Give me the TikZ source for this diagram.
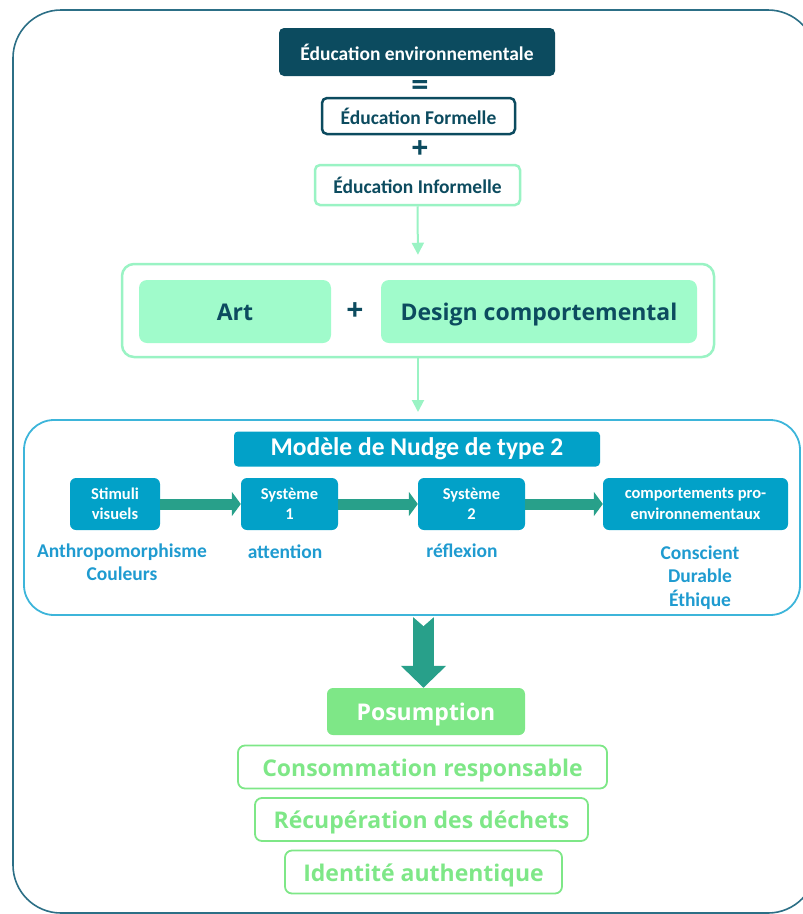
\documentclass[tikz,border=0pt]{standalone}
\usepackage{fontspec}
\setmainfont{Carlito}
\newfontfamily\opensans{Open Sans}
\usetikzlibrary{arrows.meta}
\definecolor{edudark}{HTML}{0C4B5F}
\definecolor{mint}{HTML}{A0FBCB}
\definecolor{mintline}{HTML}{9AF3C4}
\definecolor{nudgefill}{HTML}{02A1C8}
\definecolor{nudgeline}{HTML}{3DB5DA}
\definecolor{nudgetext}{HTML}{1F9BD0}
\definecolor{flowteal}{HTML}{28A08A}
\definecolor{posgreen}{HTML}{7EE787}
\definecolor{framecol}{HTML}{2C6F86}

\begin{document}
\begin{tikzpicture}[x=1pt,y=-1pt,
	darkbox/.style={fill=edudark, rounded corners=5pt, text=white, font=\bfseries\fontsize{19.5}{22}\selectfont},
	outbox/.style={draw=#1, line width=2.5pt, fill=white, rounded corners=5pt, text=edudark, font=\bfseries\fontsize{19.5}{22}\selectfont},
	mintbox/.style={fill=mint, rounded corners=8pt, text=edudark, minimum height=63pt, text height=23pt, text depth=5pt, font=\opensans\bfseries\fontsize{23}{27}\selectfont},
	nudgebox/.style={fill=nudgefill, rounded corners=6pt, text=white, align=center, minimum height=52pt, font=\bfseries\fontsize{16.5}{20.5}\selectfont},
	nudgelabel/.style={text=nudgetext, align=center, anchor=north, font=\bfseries\fontsize{19.5}{23.5}\selectfont},
	posbox/.style={draw=posgreen, line width=1.8pt, rounded corners=7pt, text=posgreen, minimum height=43pt, text height=23pt, text depth=5pt, font=\opensans\bfseries\fontsize{23}{27}\selectfont},
	signs/.style={text=edudark, font=\opensans\bfseries\fontsize{30}{30}\selectfont},
	thinarrow/.style={draw=mintline, line width=2pt, shorten >=8pt, -{Triangle[length=12pt,width=12pt]}},
	fatarrow/.style={draw=flowteal, line width=11pt, -{Triangle[length=9pt,width=24pt]}}
	]
	\useasboundingbox (0,0) rectangle (803,914);
	\begin{scope}
	\clip (0,0) rectangle (803,914);
	\draw[framecol, line width=1.6pt, rounded corners=48pt] (13,10) rectangle (816,913);
	\end{scope}
	% top equation
	\node[darkbox, minimum width=276pt, minimum height=48pt] (enviro) at (417,52) {Éducation environnementale};
	\node[signs] (eq) at (420,88) {=};
	\node[outbox=edudark, minimum width=193pt, minimum height=36pt] (formelle) at (418.5,116) {Éducation Formelle};
	\node[signs] (plus1) at (420,150) {+};
	\node[outbox=mintline, minimum width=205pt, minimum height=40pt] (informelle) at (417.5,185) {Éducation Informelle};
	% art + design
	\node[draw=mintline, line width=2.5pt, rounded corners=12pt, minimum width=592pt, minimum height=93pt] (artframe) at (418,310.5) {};
	\node[mintbox, minimum width=192pt] (art) at (235,311.5) {Art};
	\node[signs] (plus2) at (355,312) {+};
	\node[mintbox, minimum width=316pt] (design) at (539,311.5) {Design comportemental};
	\coordinate (nudgetop) at (418,420);
	\draw[thinarrow] (informelle.south) -- (artframe.north);
	\draw[thinarrow] (artframe.south) -- (nudgetop);
	% nudge
	\node[draw=nudgeline, line width=1.8pt, rounded corners=30pt, minimum width=776pt, minimum height=195pt] (nudge) at (412,517.5) {};
	\node[fill=nudgefill, rounded corners=4pt, text=white, minimum width=366pt, minimum height=35pt, font=\bfseries\fontsize{25.5}{28}\selectfont] (title) at (417,449) {Modèle de Nudge de type 2};
	\node[nudgebox, minimum width=90pt] (stim) at (115,504) {Stimuli\\visuels};
	\node[nudgebox, minimum width=97pt] (sysA) at (289.5,504) {Système\\1};
	\node[nudgebox, minimum width=107pt] (sysB) at (471.5,504) {Système\\2};
	\node[nudgebox, minimum width=185pt] (comp) at (695.5,504) {comportements pro-\\environnementaux};
	\foreach \a/\b in {stim/sysA, sysA/sysB, sysB/comp}
	{\draw[fatarrow] (\a.east) -- (\b.west);}
	\node[nudgelabel] (anthro) at (122,540) {Anthropomorphisme\\Couleurs};
	\node[nudgelabel] (attn) at (285,541) {attention};
	\node[nudgelabel] (refl) at (462,540) {réflexion};
	\node[nudgelabel] (qual) at (700,542) {Conscient\\Durable\\Éthique};
	% posumption
	\node[fill=posgreen, rounded corners=6pt, text=white, minimum width=198pt, minimum height=47pt, text height=23pt, text depth=5pt, font=\opensans\bfseries\fontsize{23}{27}\selectfont] (pos) at (426,711.5) {Posumption};
	\coordinate (nudgebot) at (423.5,616);
	\draw[flowteal, line width=21pt, -{Triangle[length=22pt,width=44pt]}] (nudgebot) -- (nudgebot |- pos.north);
	\fill[white] (412,616) -- (423.5,626) -- (435,616) -- cycle;
	\foreach \xc/\yc/\wid/\nm/\txt in {
		422.5/767/369/conso/Consommation responsable,
		421.5/819.5/333/recup/Récupération des déchets,
		423.5/872/277/ident/Identité authentique
	}{
		\node[posbox, minimum width=\wid pt] (\nm) at (\xc,\yc) {\txt};
	}
\end{tikzpicture}
\end{document}
